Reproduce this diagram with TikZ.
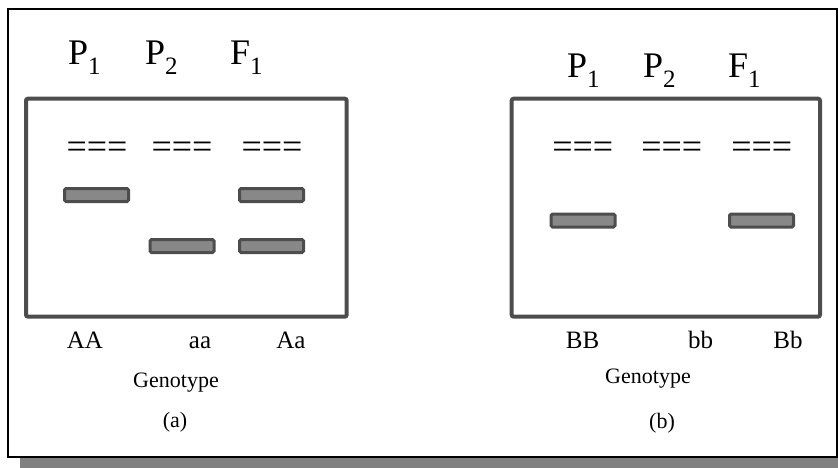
\documentclass[tikz,border=0pt]{standalone}
\usepackage{fontspec}
\setmainfont{Liberation Serif}
\definecolor{gelline}{HTML}{4D4D4D}
\definecolor{bandfill}{HTML}{888888}
\definecolor{shadowgray}{HTML}{808080}
\newcommand{\lanelab}[2]{#1\raisebox{-10pt}{\fontsize{25}{25}\selectfont #2}}
\begin{document}
\begin{tikzpicture}[x=1pt,y=-1pt,
  gelbox/.style={draw=gelline,line width=4pt,rounded corners=2pt},
  band/.style={draw=gelline,fill=bandfill,line width=3pt,rounded corners=1.5pt,
    minimum width=64pt,minimum height=13pt,inner sep=0pt},
  lanelabel/.style={anchor=base west,inner sep=0pt,font=\fontsize{36}{40}\selectfont},
  wells/.style={anchor=center,inner sep=0pt,font=\fontsize{36}{40}\selectfont},
  geno/.style={anchor=base,inner sep=0pt,font=\fontsize{25}{28}\selectfont},
  small/.style={anchor=base,inner sep=0pt,font=\fontsize{22}{26}\selectfont}]
\useasboundingbox (0,0) rectangle (838,468);
% shadow and frame
\fill[shadowgray] (20,20) rectangle (838,468);
\draw[black,fill=white,line width=2pt] (8,9) rectangle (836.5,456.5);
% gel boxes
\draw[gelbox] (26,98.7) rectangle (346.7,316.7);
\draw[gelbox] (511.7,98.7) rectangle (820,316.7);
% lane labels (a)
\node[lanelabel] (aP1) at (68,65) {\lanelab{P}{1}};
\node[lanelabel] (aP2) at (145,65) {\lanelab{P}{2}};
\node[lanelabel] (aF1) at (230,65) {\lanelab{F}{1}};
% lane labels (b)
\node[lanelabel] (bP1) at (567,78) {\lanelab{P}{1}};
\node[lanelabel] (bP2) at (643,78) {\lanelab{P}{2}};
\node[lanelabel] (bF1) at (728,78) {\lanelab{F}{1}};
% wells
\node[wells] (aw1) at (97,150) {===};
\node[wells] (aw2) at (182,150) {===};
\node[wells] (aw3) at (272,150) {===};
\node[wells] (bw1) at (582.7,150) {===};
\node[wells] (bw2) at (671.7,150) {===};
\node[wells] (bw3) at (761.7,150) {===};
% bands (a)
\node[band] (ab1) at (96.5,195) {};
\node[band] (ab2) at (271.5,195) {};
\node[band] (ab3) at (182,246) {};
\node[band] (ab4) at (271.5,246) {};
% bands (b)
\node[band] (bb1) at (583,220.5) {};
\node[band] (bb2) at (761.5,220.5) {};
% genotypes (a)
\node[geno] (gAA) at (85,348) {AA};
\node[geno] (gaa) at (200,348) {aa};
\node[geno] (gAa) at (291,348) {Aa};
\node[small] (ga) at (176,387) {Genotype};
\node[small] (la) at (175,427) {(a)};
% genotypes (b)
\node[geno] (gBB) at (582.5,348) {BB};
\node[geno] (gbb) at (700.5,348) {bb};
\node[geno] (gBb) at (788,348) {Bb};
\node[small] (gb) at (648,383) {Genotype};
\node[small] (lb) at (662,428) {(b)};
\end{tikzpicture}
\end{document}
